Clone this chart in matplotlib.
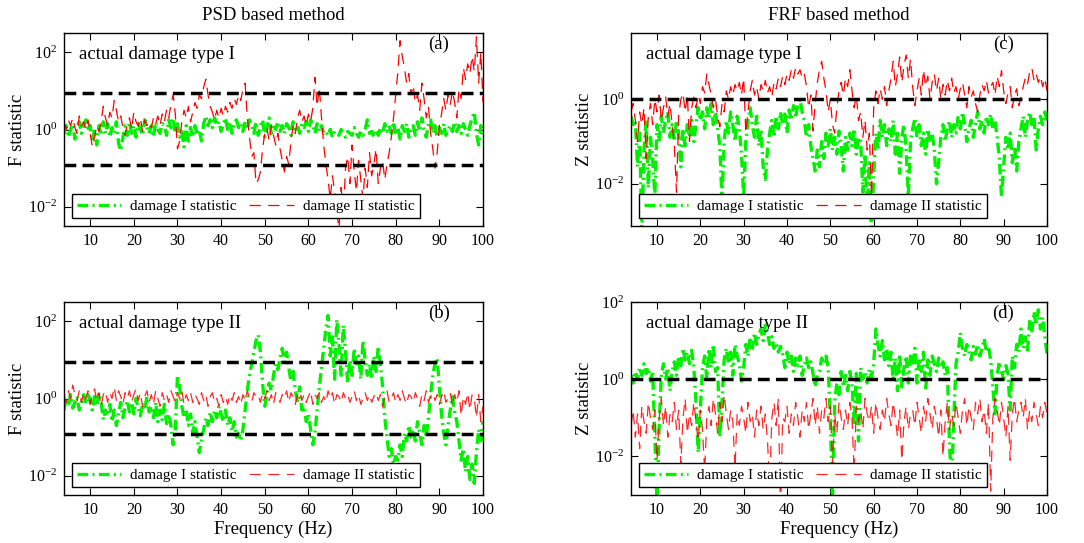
import numpy as np
import matplotlib
matplotlib.use("Agg")
import matplotlib.pyplot as plt
from matplotlib.ticker import NullLocator

plt.rcParams['font.family'] = ['Liberation Serif', 'DejaVu Serif']
plt.rcParams['mathtext.fontset'] = 'stix'

# frequency axis (Hz), 0.5 Hz resolution
freq = np.linspace(4, 100, 193)

# ---- values are log10 of the statistic ----
# (a) PSD method, actual damage type I
psd_t1_dmgI = [
    -0.1, 0.1, -0.2, 0.0, 0.15, -0.25, 0.05, 0.2, -0.1, 0.1,
    0.25, -0.05, 0.1, -0.3, 0.0, -0.4, 0.1, -0.15, 0.2, -0.1,
    0.15, -0.2, 0.05, -0.1, 0.2, -0.35, -0.55, -0.2, 0.1, -0.15,
    0.2, -0.1, 0.1, -0.2, 0.15, 0.0, -0.15, 0.25, 0.05, -0.1,
    0.1, -0.2, 0.2, 0.0, -0.1, 0.15, 0.1, -0.15, 0.25, 0.05,
    0.3, -0.1, 0.15, -0.2, -0.05, -0.45, 0.1, -0.3, 0.05, -0.2,
    0.1, -0.15, 0.0, -0.3, 0.15, 0.35, 0.1, 0.25, 0.05, 0.3,
    0.1, 0.2, -0.05, 0.15, 0.3, 0.0, 0.2, -0.1, 0.15, 0.25,
    0.05, 0.15, -0.05, 0.2, 0.0, 0.25, 0.1, -0.1, 0.2, -0.15,
    0.1, 0.25, -0.2, 0.05, 0.3, -0.1, 0.15, 0.0, 0.2, -0.05,
    0.1, -0.1, 0.15, 0.05, -0.15, 0.2, 0.0, 0.1, -0.1, 0.15,
    0.05, 0.2, -0.05, 0.25, 0.1, -0.1, 0.15, -0.05, 0.1, -0.1,
    -0.05, -0.15, 0.0, -0.2, -0.05, -0.1, -0.15, 0.0, -0.1, -0.2,
    -0.05, -0.1, -0.15, 0.05, -0.1, -0.2, -0.05, -0.15, 0.0, 0.25,
    -0.1, -0.05, -0.2, 0.0, -0.15, 0.05, -0.1, 0.15, -0.05, 0.1,
    -0.1, 0.2, -0.15, 0.05, -0.25, 0.1, -0.05, 0.15, -0.2, 0.0,
    0.1, -0.15, 0.2, -0.05, 0.3, 0.0, -0.2, 0.15, 0.25, -0.1,
    0.1, -0.2, 0.05, -0.1, 0.15, -0.15, 0.0, 0.1, -0.05, 0.2,
    -0.05, 0.1, -0.1, 0.15, 0.0, -0.15, 0.1, 0.3, 0.45, -0.1,
    -0.4, 0.1, -0.2]
psd_t1_dmgII = [
    0.2, 0.0, 0.25, 0.1, 0.3, 0.05, -0.1, 0.35, 0.1, 0.2,
    0.0, 0.25, -0.1, -0.45, -0.2, 0.1, -0.05, 0.2, 0.6, 0.3,
    0.1, 0.45, 0.3, 0.75, 0.5, 0.2, 0.35, 0.05, -0.15, 0.15,
    0.3, 0.0, 0.45, 0.2, 0.1, 0.3, -0.05, 0.25, 0.1, 0.2,
    0.05, 0.3, 0.15, 0.35, 0.1, 0.4, 0.2, 0.5, 0.3, 0.65,
    0.9, 0.4, -0.5, -0.3, 0.2, 0.5, 0.3, 0.6, 0.2, 0.45,
    0.7, 0.55, 0.9, 0.8, 1.1, 1.3, 0.9, 0.6, 0.45, 0.25,
    0.5, 0.3, 0.55, 0.35, 0.6, 0.45, 0.7, 0.55, 0.8, 0.65,
    0.9, 0.75, 1.05, 1.2, 0.3, -0.2, -0.7, -0.6, -1.4, -1.3,
    -1.1, -0.5, -0.1, 0.05, -0.3, 0.1, -0.15, -0.4, -0.1, -0.5,
    -0.8, -1.1, -0.7, -0.9, -0.3, 0.1, -0.1, 0.3, 0.5, 0.2,
    0.35, 0.1, 0.4, 0.2, 0.55, 1.35, 0.6, 1.1, 0.3, -0.4,
    -0.9, -1.3, -1.8, -1.2, -1.6, -2.1, -2.6, -1.5, -2.2, -1.0,
    -0.7, -1.4, -0.4, -1.1, -1.6, -0.8, -1.3, -1.8, -1.0, -1.5,
    -0.6, -1.2, -0.9, -0.5, -1.4, -1.0, -0.8, -1.3, -0.9, -0.6,
    -0.2, 0.3, 0.9, 1.5, 2.3, 1.9, 1.6, 1.2, 1.45, 0.9,
    1.15, 0.7, 0.9, 0.5, 1.2, 0.8, 0.3, 0.6, -0.1, -0.5,
    -1.0, -0.6, 0.1, 0.4, 0.8, 0.5, 0.9, 0.65, 1.0, 0.7,
    0.3, 1.05, 0.8, 1.6, 1.3, 1.7, 1.45, 1.9, 1.5, 2.4,
    1.2, 2.0, 0.7]

# (b) PSD method, actual damage type II
psd_t2_dmgI = [
    -0.3, 0.0, -0.2, 0.1, -0.25, -0.1, 0.05, -0.3, -0.1, 0.1,
    -0.15, 0.1, -0.05, -0.3, 0.05, -0.2, 0.15, -0.1, -0.55, -0.3,
    -0.45, -0.15, -0.6, -0.3, -0.7, -0.4, -0.1, -0.5, -0.25, -0.05,
    -0.35, -0.1, -0.4, 0.0, -0.25, -0.45, -0.15, -0.3, 0.05, -0.35,
    -0.2, -0.5, -0.1, -0.6, -0.3, -0.55, -0.15, -0.65, -0.4, -0.7,
    -1.2, -0.8, 0.6, 0.3, -0.2, -0.5, -0.3, -0.7, -0.4, -0.9,
    -0.6, -1.0, -1.4, -1.1, -0.8, -0.5, -0.7, -0.35, -0.6, -0.3,
    -0.5, -0.2, -0.4, -0.6, -0.3, -0.7, -0.5, -0.85, -0.6, -1.0,
    -0.9, -1.1, -0.8, -0.3, 0.2, 0.6, 0.9, 1.2, 1.5, 1.65,
    1.2, 0.4, -0.2, 0.1, 0.4, 0.2, 0.6, 0.9, 0.75, 1.05,
    1.3, 0.95, 1.2, 0.8, 0.45, 0.7, 0.2, -0.1, 0.3, -0.3,
    -0.2, -0.6, -0.4, -0.8, -1.2, -0.9, -0.3, 0.3, 0.8, 1.3,
    1.8, 2.15, 1.1, 1.6, 0.5, 2.05, 1.4, 0.6, 1.9, 1.2,
    0.4, 1.0, 0.6, 1.3, 0.9, 1.1, 0.5, 1.5, 1.0, 0.6,
    0.9, 0.5, 1.1, 0.7, 1.35, 0.9, 0.3, -0.5, -1.0, -1.5,
    -1.3, -1.7, -1.5, -1.6, -1.2, -1.5, -0.9, -1.1, -0.7, -1.0,
    -0.8, -1.1, -0.6, -0.9, -1.2, -0.7, -1.0, -0.5, 0.1, 0.6,
    0.9, 1.05, 0.3, -0.4, -0.9, -1.2, -0.7, -0.3, 0.05, -0.35,
    -0.6, -1.1, -1.6, -1.3, -1.9, -1.5, -2.1, -1.7, -2.2, -1.4,
    -0.8, -1.1, -0.6]
psd_t2_dmgII = [
    0.1, -0.1, 0.2, 0.0, 0.35, 0.1, -0.05, 0.2, -0.1, 0.15,
    0.0, 0.2, -0.15, 0.1, 0.25, -0.05, 0.15, -0.2, 0.1, 0.2,
    -0.1, 0.15, 0.0, 0.3, -0.05, 0.2, 0.05, -0.15, 0.15, 0.0,
    0.2, -0.1, 0.1, 0.25, -0.05, 0.15, -0.2, 0.05, 0.2, -0.1,
    0.1, -0.15, 0.2, 0.0, -0.2, 0.15, -0.05, 0.1, -0.1, 0.2,
    0.05, -0.1, 0.15, 0.0, 0.2, -0.15, 0.1, -0.05, 0.15, -0.1,
    0.1, 0.0, -0.15, 0.15, -0.05, 0.1, -0.2, 0.05, 0.15, -0.1,
    0.0, -0.2, 0.1, -0.1, 0.05, -0.15, 0.1, -0.05, 0.15, -0.1,
    0.05, -0.15, 0.1, -0.05, 0.2, 0.0, -0.1, 0.15, 0.05, 0.1,
    -0.1, 0.15, 0.0, 0.2, -0.05, 0.1, -0.15, 0.15, 0.05, -0.1,
    0.1, 0.0, 0.2, -0.1, 0.15, 0.05, -0.15, 0.1, 0.2, -0.05,
    0.1, -0.1, 0.05, 0.2, -0.15, 0.1, 0.0, 0.15, -0.1, 0.05,
    -0.1, 0.2, 0.0, 0.15, -0.15, 0.1, 0.05, -0.1, 0.15, 0.0,
    0.1, -0.1, 0.05, 0.2, -0.05, 0.1, -0.15, 0.0, 0.15, -0.05,
    0.1, -0.1, 0.05, 0.15, -0.05, 0.1, -0.2, 0.05, 0.2, -0.1,
    0.0, 0.15, -0.1, 0.1, -0.05, 0.2, 0.0, -0.15, 0.1, 0.05,
    -0.1, 0.15, 0.0, -0.2, 0.1, -0.05, 0.2, -0.1, 0.05, 0.15,
    -0.05, 0.1, -0.15, 0.05, 0.2, -0.1, 0.0, 0.15, -0.2, 0.1,
    -0.1, 0.2, -0.45, 0.05, -0.15, 0.15, -0.3, 0.1, 0.0, -0.5,
    0.1, -0.6, -0.2]

# (c) FRF method, actual damage type I
frf_t1_dmgI = [
    -0.4, -0.6, -0.5, -1.6, -0.8, -3.2, -1.2, -0.5, -2.1, -0.9,
    -1.4, -2.3, -0.6, -1.0, -0.4, -0.8, -0.5, -0.3, -0.9, -0.6,
    -1.0, -0.5, -0.8, -1.6, -0.7, -1.1, -0.6, -0.9, -0.5, -1.0,
    -0.6, -0.2, -0.5, -0.3, -0.7, -0.2, -0.45, -0.1, -0.6, -0.3,
    -0.7, -1.1, -2.4, -1.0, -0.5, -0.8, -0.3, -0.6, -1.0, -0.4,
    -0.7, -1.3, -2.3, -1.0, -0.5, -0.2, -0.6, -0.9, -0.4, -1.1,
    -0.7, -1.6, -1.9, -1.2, -0.8, -0.5, -0.9, -0.4, -0.7, -0.3,
    -0.6, -0.35, -0.8, -0.25, -0.5, -0.15, -0.45, -0.1, 0.0, -0.3,
    -0.5, -0.9, -0.6, -1.1, -1.4, -1.7, -1.2, -1.6, -1.0, -1.4,
    -0.8, -1.1, -0.7, -1.2, -0.9, -1.3, -0.75, -1.1, -1.7, -0.9,
    -1.2, -0.8, -1.1, -0.7, -1.3, -0.9, -1.0, -2.2, -1.3, -2.6,
    -1.5, -3.2, -1.8, -0.8, -1.2, -0.5, -0.9, -0.6, -1.1, -0.7,
    -1.0, -0.5, -1.3, -0.8, -1.75, -0.9, -0.6, -1.2, -2.3, -1.0,
    -0.7, -0.45, -0.9, -0.6, -1.1, -0.8, -1.3, -0.7, -1.0, -0.8,
    -1.2, -2.0, -1.5, -0.9, -0.6, -1.0, -0.7, -0.5, -0.9, -0.6,
    -0.8, -0.4, -0.7, -0.3, -0.6, -1.0, -0.7, -0.5, -0.9, -0.6,
    -0.3, -0.7, -0.5, -0.8, -0.4, -0.6, -0.35, -0.7, -0.5, -0.9,
    -1.4, -2.3, -1.6, -0.9, -1.2, -0.8, -1.5, -1.1, -1.7, -1.0,
    -0.7, -0.4, -0.9, -0.5, -0.3, -0.6, -0.4, -1.2, -0.7, -0.4,
    -0.6, -0.3, -0.5]
frf_t1_dmgII = [
    -0.3, -0.1, -0.5, -1.0, -0.3, -0.6, -0.2, -1.4, -0.4, -0.1,
    -0.6, 0.0, -0.3, 0.1, -0.5, -0.2, 0.05, -0.4, -0.1, -0.6,
    -1.1, -2.2, -0.4, 0.0, 0.15, -0.3, 0.1, -1.0, -0.2, 0.05,
    -0.2, 0.1, -0.1, 0.3, 0.15, 0.6, 0.35, 0.1, -0.2, 0.0,
    -0.4, -0.65, -0.1, -0.3, 0.2, 0.0, 0.3, 0.1, 0.35, 0.2,
    0.4, 0.1, 0.5, -0.8, -0.3, 0.2, 0.45, 0.1, 0.3, 0.0,
    0.35, 0.2, 0.45, 0.15, 0.3, 0.05, 0.4, 0.25, 0.5, 0.3,
    0.55, 0.35, 0.6, 0.45, 0.7, 0.5, 0.75, 0.6, 0.7, 0.5,
    0.6, 0.3, -0.2, 0.1, -0.75, -0.1, 0.4, 0.7, 0.9, 0.5,
    0.2, -0.3, 0.0, -0.6, -0.8, -0.2, 0.2, 0.4, 0.1, 0.5,
    0.3, 0.7, 0.2, -0.2, 0.1, -0.5, -0.3, -0.9, -0.5, -1.2,
    -0.8, -2.3, -0.2, 0.2, -0.1, 0.25, 0.0, 0.3, -0.15, 0.2,
    0.5, 0.9, 0.3, 0.6, 1.0, 0.4, 0.8, 1.05, 0.5, 0.95,
    0.3, -0.15, 0.2, 0.5, 0.1, 0.7, 0.3, 0.55, 0.0, 0.4,
    0.6, 0.2, 0.5, 0.0, 0.35, 0.1, 0.45, 0.2, 0.5, 0.15,
    0.3, 0.0, 0.25, 0.4, 0.1, -0.2, 0.3, 0.05, 0.2, -0.1,
    -0.3, 0.1, 0.35, 0.2, 0.45, 0.15, 0.3, 0.4, 0.1, 0.55,
    0.3, 0.68, 0.2, -0.1, 0.15, 0.3, -0.2, 0.1, 0.25, -0.15,
    0.05, 0.3, 0.5, 0.35, 0.65, 0.75, 0.45, 0.6, 0.4, 0.55,
    0.3, 0.5, 0.2]

# (d) FRF method, actual damage type II
frf_t2_dmgI = [
    0.1, -0.1, 0.2, 0.0, 0.3, 0.1, 0.4, 0.15, 0.3, -0.05,
    0.2, -1.5, -3.2, -1.2, 0.1, 0.4, 0.0, 0.3, -0.3, 0.2,
    0.45, 0.1, 0.6, 0.35, 0.8, 0.5, 0.7, 0.4, 0.75, 0.3,
    -0.6, -1.9, -0.8, 0.3, 0.6, 0.0, 0.8, 0.3, 0.9, 0.2,
    0.3, -1.5, -0.6, 0.5, 0.8, 0.4, 0.7, 0.1, 0.9, 0.6,
    0.4, -0.05, 0.3, 0.9, 0.6, 1.1, 0.8, 1.2, 0.9, 1.15,
    1.3, 1.0, 1.4, 1.2, 0.9, 1.1, 0.8, 0.95, 0.7, 0.85,
    0.65, 0.3, 0.7, 0.4, 0.6, 0.2, 0.55, 0.35, 0.6, 0.1,
    0.35, 0.55, 0.3, 0.45, 0.15, -0.2, 0.1, 0.2, 0.55, 0.4,
    0.6, 0.3, -1.0, -3.2, -0.6, -0.1, -0.4, 0.2, -0.2, 0.1,
    -0.3, 0.2, -0.1, -1.2, 0.15, -1.6, 0.3, 0.0, 0.2, -0.1,
    0.25, 0.05, 0.4, 1.3, 0.9, 0.6, 1.0, 0.5, 0.8, 0.35,
    0.7, 0.0, 0.55, -0.3, 0.65, -0.2, 0.3, 0.6, -0.1, 0.6,
    0.35, 0.8, -0.1, 0.55, 0.2, 0.7, -0.3, 0.5, 0.1, 0.6,
    0.4, 0.2, 0.55, 0.3, 0.45, 0.1, 0.3, -1.7, -2.7, -1.0,
    0.4, 0.7, 1.2, 0.8, 0.6, 0.9, 0.7, 0.5, 0.85, 0.65,
    0.9, 0.6, 0.8, 1.05, 0.7, 0.85, 0.5, -0.2, -0.9, 0.1,
    0.45, 0.2, 0.0, 0.35, 0.15, -0.8, 0.6, 0.3, 0.9, 0.7,
    1.3, 0.8, 1.1, 0.7, 1.5, 1.2, 1.75, 1.4, 1.8, 1.3,
    1.6, 1.1, 0.65]
frf_t2_dmgII = [
    -1.2, -0.8, -1.5, -0.9, -1.8, -0.7, -1.1, -1.4, -0.6, -1.0,
    -1.3, -0.8, -2.1, -1.0, -0.5, -1.2, -0.7, -1.5, -0.9, -1.1,
    -0.6, -1.3, -0.8, -2.2, -1.0, -0.5, -1.4, -0.9, -1.2, -0.6,
    -1.1, -1.6, -0.8, -1.3, -2.4, -1.0, -0.7, -1.2, -0.5, -0.9,
    -1.4, -0.6, -1.1, -0.4, -0.9, -1.3, -0.8, -1.1, -2.3, -0.9,
    -1.2, -0.7, -1.0, -1.4, -0.6, -1.1, -0.9, -1.5, -0.8, -1.2,
    -0.7, -1.3, -0.9, -1.6, -2.8, -1.0, -0.6, -1.2, -0.5, -3.5,
    -1.0, -1.1, -0.7, -1.4, -0.9, -1.2, -0.6, -1.0, -1.5, -0.8,
    -1.1, -0.6, -1.3, -0.9, -0.5, -1.2, -0.7, -1.4, -0.8, -1.0,
    -0.5, -1.1, -0.7, -2.2, -0.9, -1.4, -0.6, -1.0, -1.3, -0.8,
    -1.2, -0.6, -1.0, -2.4, -0.7, -1.1, -0.8, -1.3, -0.5, -0.9,
    -1.1, -0.7, -1.4, -0.6, -1.0, -1.3, -0.8, -1.1, -0.5, -0.9,
    -1.2, -0.6, -1.0, -1.5, -0.8, -2.1, -1.1, -0.7, -1.3, -0.9,
    -0.8, -1.2, -0.6, -1.0, -1.4, -0.7, -1.1, -0.5, -0.9, -1.3,
    -0.7, -1.0, -1.5, -0.8, -2.0, -1.1, -0.6, -1.3, -0.9, -1.2,
    -0.6, -1.0, -1.4, -0.8, -0.5, -1.2, -0.7, -1.0, -1.3, -0.6,
    -0.9, -0.5, -1.1, -0.8, -1.4, -0.6, -2.9, -1.0, -0.5, -0.8,
    -1.2, -0.6, -1.0, -1.5, -0.7, -2.1, -0.9, -0.5, -1.1, -0.8,
    -0.6, -1.0, -0.5, -1.3, -0.8, -1.1, -0.6, -0.9, -1.2, -0.7,
    -1.0, -0.6, -0.9]

# thresholds (critical values)
f_thresholds = [8.6, 0.117]
z_thresholds = [1.0]

column_titles = ["PSD based method", "FRF based method"]
row_texts = ["actual damage type I", "actual damage type II"]
panel_tags = [["(a)", "(c)"], ["(b)", "(d)"]]
ylabels = ["F statistic", "Z statistic"]
legend_labels = ["damage I statistic", "damage II statistic"]
x_ticks = [10, 20, 30, 40, 50, 60, 70, 80, 90, 100]
y_ticks = [1e-2, 1e0, 1e2]

W, H = 1084, 543
fig = plt.figure(figsize=(W / 100, H / 100), dpi=100)

# axes boxes in pixels (left, top, right, bottom)
boxes = {
    (0, 0): (64, 33, 483, 226),
    (1, 0): (64, 302, 483, 495),
    (0, 1): (631, 33, 1047, 226),
    (1, 1): (631, 302, 1047, 495),
}
series = {
    (0, 0): (psd_t1_dmgI, psd_t1_dmgII),
    (1, 0): (psd_t2_dmgI, psd_t2_dmgII),
    (0, 1): (frf_t1_dmgI, frf_t1_dmgII),
    (1, 1): (frf_t2_dmgI, frf_t2_dmgII),
}
ylims = {
    (0, 0): (10 ** -2.5, 10 ** 2.5),
    (1, 0): (10 ** -2.5, 10 ** 2.5),
    (0, 1): (1e-3, 10 ** 1.57),
    (1, 1): (1e-3, 1e2),
}

green = '#00f000'
for (r, c), (l, t, rr, b) in boxes.items():
    ax = fig.add_axes([l / W, 1 - b / H, (rr - l) / W, (b - t) / H])
    g, red = series[(r, c)]
    ax.plot(freq, 10 ** np.array(g), color=green, lw=2.4,
            dashes=(3.2, 1.3, 0.6, 1.3), label=legend_labels[0], zorder=2)
    ralpha = 1.0 if r == 0 else 0.85
    ax.plot(freq, 10 ** np.array(red), color='red', lw=0.9, alpha=ralpha,
            dashes=(9, 6), label=legend_labels[1], zorder=2.5)
    for th in (f_thresholds if c == 0 else z_thresholds):
        ax.axhline(th, color='black', lw=2.5, dashes=(3.4, 1.8), zorder=3)
    ax.set_yscale('log')
    ax.set_xticks(x_ticks)
    ax.set_yticks(y_ticks)
    ax.yaxis.set_minor_locator(NullLocator())
    ax.set_xlim(4, 100)
    ax.set_ylim(*ylims[(r, c)])
    ax.tick_params(direction='in', top=True, right=True, length=5,
                   width=0.8, labelsize=11.5, pad=5)
    for s in ax.spines.values():
        s.set_linewidth(1.0)
    ax.set_ylabel(ylabels[c], fontsize=13.5, labelpad=1.5)
    if r == 1:
        ax.set_xlabel("Frequency (Hz)", fontsize=13.5, labelpad=2)
    else:
        ax.set_title(column_titles[c], fontsize=13.5, pad=9)
    ax.text(0.035, 0.89, row_texts[r], transform=ax.transAxes,
            fontsize=13.5, va='center', ha='left')
    ax.text(0.895, 0.94, panel_tags[r][c], transform=ax.transAxes,
            fontsize=13.5, va='center', ha='center')
    leg = ax.legend(loc='lower left', ncol=2, fontsize=11, frameon=True,
                    fancybox=False, edgecolor='black', framealpha=1,
                    handlelength=2.9, columnspacing=0.8, borderpad=0.35,
                    handletextpad=0.6)
    leg.get_frame().set_linewidth(1.0)
    leg.set_zorder(5)

fig.savefig('out.png', dpi=100)
